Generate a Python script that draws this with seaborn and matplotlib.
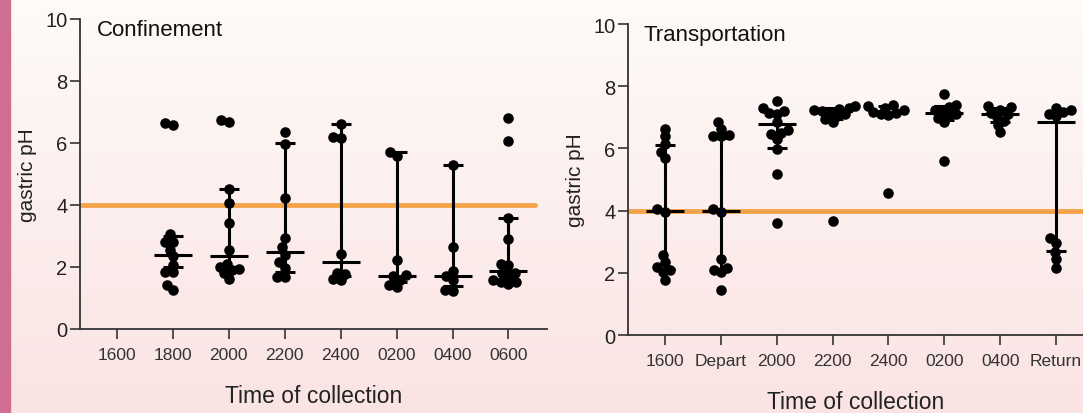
import numpy as np
import pandas as pd
import matplotlib
matplotlib.use("Agg")
import matplotlib.pyplot as plt
from matplotlib.colors import LinearSegmentedColormap
import seaborn as sns

# ---- data (gastric pH) ----
conf_times = ["1600", "1800", "2000", "2200", "2400", "0200", "0400", "0600"]
conf_1800 = [6.66, 6.59, 3.05, 2.82, 2.82, 2.56, 2.34, 2.08, 1.83, 1.83, 1.43, 1.27]
conf_2000 = [6.75, 6.69, 4.50, 4.06, 3.41, 2.56, 2.10, 2.00, 1.95, 1.90, 1.80, 1.60]
conf_2200 = [6.36, 5.97, 4.22, 2.95, 2.63, 2.40, 2.15, 1.98, 1.69, 1.69]
conf_2400 = [6.60, 6.20, 6.15, 2.43, 1.82, 1.79, 1.62, 1.59]
conf_0200 = [5.72, 5.57, 2.21, 1.75, 1.70, 1.59, 1.43, 1.37]
conf_0400 = [5.30, 2.64, 1.86, 1.72, 1.59, 1.27, 1.23]
conf_0600 = [6.81, 6.06, 3.59, 2.91, 2.10, 2.05, 1.82, 1.82, 1.70, 1.59, 1.53, 1.50, 1.45]
conf_med = [np.nan, 2.40, 2.35, 2.48, 2.15, 1.70, 1.72, 1.88]
conf_q1 = [np.nan, 2.00, 1.90, 1.85, 1.70, 1.50, 1.40, 1.60]
conf_q3 = [np.nan, 3.00, 4.50, 6.00, 6.60, 5.70, 5.30, 3.59]

trans_times = ["1600", "Depart", "2000", "2200", "2400", "0200", "0400", "Return"]
trans_1600 = [6.64, 6.39, 6.14, 5.89, 5.68, 4.05, 3.97, 2.57, 2.34, 2.18, 2.10, 2.01, 1.78]
trans_depart = [6.86, 6.64, 6.43, 6.39, 6.39, 4.05, 3.97, 2.44, 2.14, 2.10, 2.01, 1.46]
trans_2000 = [7.53, 7.30, 7.20, 7.15, 7.10, 6.85, 6.60, 6.50, 6.45, 6.30, 5.98, 5.18, 3.59]
trans_2200 = [7.35, 7.30, 7.28, 7.22, 7.20, 7.15, 7.10, 7.05, 6.95, 6.85, 3.68]
trans_2400 = [7.38, 7.35, 7.30, 7.22, 7.18, 7.15, 7.10, 7.08, 4.56]
trans_0200 = [7.75, 7.38, 7.32, 7.25, 7.18, 7.12, 7.05, 6.98, 6.85, 5.60]
trans_0400 = [7.37, 7.33, 7.25, 7.15, 7.10, 7.00, 6.89, 6.75, 6.52]
trans_return = [7.30, 7.22, 7.18, 7.12, 7.05, 3.11, 2.96, 2.68, 2.44, 2.14]
trans_med = [3.99, 4.00, 6.80, 7.20, 7.15, 7.15, 7.10, 6.84]
trans_q1 = [2.12, 2.10, 6.00, 6.95, 7.05, 6.90, 6.85, 2.70]
trans_q3 = [6.11, 6.35, 7.10, 7.30, 7.35, 7.35, 7.30, 7.20]

threshold = 4.0

conf_groups = [[], conf_1800, conf_2000, conf_2200, conf_2400, conf_0200, conf_0400, conf_0600]
trans_groups = [trans_1600, trans_depart, trans_2000, trans_2200, trans_2400,
                trans_0200, trans_0400, trans_return]


def long_df(times, groups):
    rows = [(t, v) for t, g in zip(times, groups) for v in g]
    return pd.DataFrame(rows, columns=["time", "ph"])


sns.set_style("ticks")
plt.rcParams["font.family"] = ["Liberation Sans", "DejaVu Sans"]

fig = plt.figure(figsize=(10.83, 4.14), dpi=100)

# pale gradient background + pink strip on the left edge
bg = fig.add_axes([0, 0, 1, 1], zorder=-10)
cmap = LinearSegmentedColormap.from_list("bg", ["#fefbf8", "#fae3e3"])
bg.imshow(np.linspace(0, 1, 200).reshape(-1, 1), aspect="auto", cmap=cmap,
          extent=[0, 1, 0, 1], origin="upper")
bg.axvspan(0, 0.0095, color="#cf6e92")
bg.set_xlim(0, 1)
bg.set_ylim(0, 1)
bg.axis("off")

ax1 = fig.add_axes([0.0739, 0.2029, 0.4312, 0.7488])
ax2 = fig.add_axes([0.5799, 0.1884, 0.4201, 0.7512])

panels = [
    (ax1, conf_times, conf_groups, conf_med, conf_q1, conf_q3, "Confinement", (-0.66, 7.69), 0.975),
    (ax2, trans_times, trans_groups, trans_med, trans_q1, trans_q3, "Transportation", (-0.66, 7.48), 1.0),
]

for ax, times, groups, med, q1, q3, title, xlim, line_end in panels:
    ax.set_facecolor("none")
    df = long_df(times, groups)
    ax.set_xlim(*xlim)
    ax.set_ylim(0, 10)
    # swarm laid out with smaller dots, then dots enlarged so they overlap like in the original
    sns.swarmplot(data=df, x="time", y="ph", order=times, color="black",
                  size=5.4, linewidth=0, ax=ax, zorder=3, warn_thresh=1)
    ax.set_xlim(*xlim)
    ax.set_ylim(0, 10)
    fig.canvas.draw()
    for coll in ax.collections:
        if "draw" in vars(coll):
            del coll.draw
        coll.set_sizes([7.6 ** 2])

    ax.axhline(threshold, xmin=0, xmax=line_end, color="#f5a34a", lw=3.5, zorder=1)
    pos = np.arange(len(times))
    med = np.array(med)
    ax.errorbar(pos, med, yerr=[med - np.array(q1), np.array(q3) - med],
                fmt="_", color="black", markersize=28, mew=2.2,
                elinewidth=2.2, capsize=7, capthick=2.2, zorder=4)
    ax.set_yticks([0, 2, 4, 6, 8, 10])
    ax.set_xticks(pos)
    ax.set_xticklabels(times, fontsize=12.5, color="#333333")
    ax.tick_params(axis="y", labelsize=14.5, length=7, width=1.2, colors="#333333",
                   labelcolor="#222222", pad=2)
    ax.tick_params(axis="x", length=7, width=1.2, colors="#333333", pad=6)
    for s in ["left", "bottom"]:
        ax.spines[s].set_color("#333333")
        ax.spines[s].set_linewidth(1.3)
    sns.despine(ax=ax)
    ax.set_ylabel("gastric pH", fontsize=15, color="#222222", labelpad=6)
    ax.set_xlabel("Time of collection", fontsize=16.5, color="#222222", labelpad=16)
    ax.text(0.035, 1.0, title, transform=ax.transAxes, fontsize=16,
            color="#111111", va="top", ha="left")

fig.savefig("out.png", dpi=100)
